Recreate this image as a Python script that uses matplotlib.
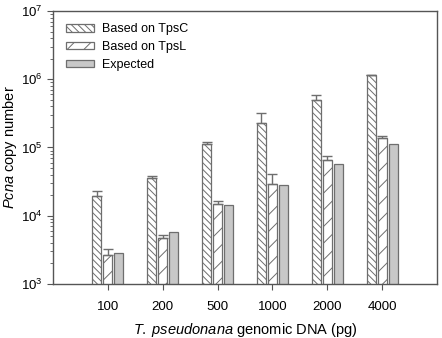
import numpy as np
import matplotlib
matplotlib.use("Agg")
import matplotlib.pyplot as plt
from matplotlib.ticker import LogLocator, NullFormatter

plt.rcParams['font.family'] = ['Liberation Sans', 'DejaVu Sans']
plt.rcParams['mathtext.fontset'] = 'custom'
plt.rcParams['mathtext.rm'] = 'Liberation Sans'
plt.rcParams['mathtext.it'] = 'Liberation Sans:italic'
plt.rcParams['hatch.linewidth'] = 0.7

# data
groups = ["100", "200", "500", "1000", "2000", "4000"]
tpsc = [19300, 35300, 110600, 232000, 497000, 1150000]
tpsc_top = [22800, 38100, 121000, 317000, 588000, 1170000]
tpsl = [2650, 4700, 14600, 29500, 64600, 138700]
tpsl_top = [3210, 5140, 16300, 41300, 73900, 148000]
expected = [2860, 5740, 14200, 28500, 57800, 113000]

x = np.arange(1, len(groups) + 1)
w = 0.165
edge = '#6e6e6e'

fig = plt.figure(figsize=(4.42, 3.38), dpi=100)
ax = fig.add_axes([0.12, 0.16, 0.8687, 0.8075])

ax.bar(x - 0.2, tpsc, w, color='white', edgecolor=edge, hatch='\\\\\\\\\\', linewidth=0.9, label='Based on TpsC')
ax.bar(x, tpsl, w, color='white', edgecolor=edge, hatch='//', linewidth=0.9, label='Based on TpsL')
ax.bar(x + 0.2, expected, w, color='#c8c8c8', edgecolor=edge, linewidth=0.9, label='Expected')

ax.errorbar(x - 0.2, tpsc, yerr=[np.zeros(6), np.array(tpsc_top) - np.array(tpsc)],
            fmt='none', ecolor=edge, elinewidth=1, capsize=3.5, capthick=1)
ax.errorbar(x, tpsl, yerr=[np.zeros(6), np.array(tpsl_top) - np.array(tpsl)],
            fmt='none', ecolor=edge, elinewidth=1, capsize=3.5, capthick=1)

ax.set_yscale('log')
ax.set_ylim(1e3, 1e7)
ax.set_xlim(0, 7)
ax.set_xticks(x)
ax.set_xticklabels(groups)
ax.yaxis.set_minor_locator(LogLocator(base=10, subs=np.arange(2, 10)))
ax.yaxis.set_minor_formatter(NullFormatter())
ax.tick_params(which='both', direction='out', top=False, right=False, labelsize=9.5, color='#555555')
ax.tick_params(which='major', length=4)
ax.tick_params(which='minor', length=2)
ax.tick_params(axis='x', pad=8)

for s in ax.spines.values():
    s.set_color('#555555')
    s.set_linewidth(1)

ax.set_ylabel(r'$\it{Pcna}$ copy number', fontsize=10.5)
ax.yaxis.set_label_coords(-0.088, 0.5)
ax.set_xlabel(r'$\it{T.\;pseudonana}$ genomic DNA (pg)', fontsize=10.5, labelpad=6)

leg = ax.legend(loc='upper left', frameon=False, fontsize=9, handlelength=2.3, handleheight=0.55,
                borderaxespad=0.6, labelspacing=0.45, handletextpad=0.65)

fig.savefig('out.png', dpi=100)
